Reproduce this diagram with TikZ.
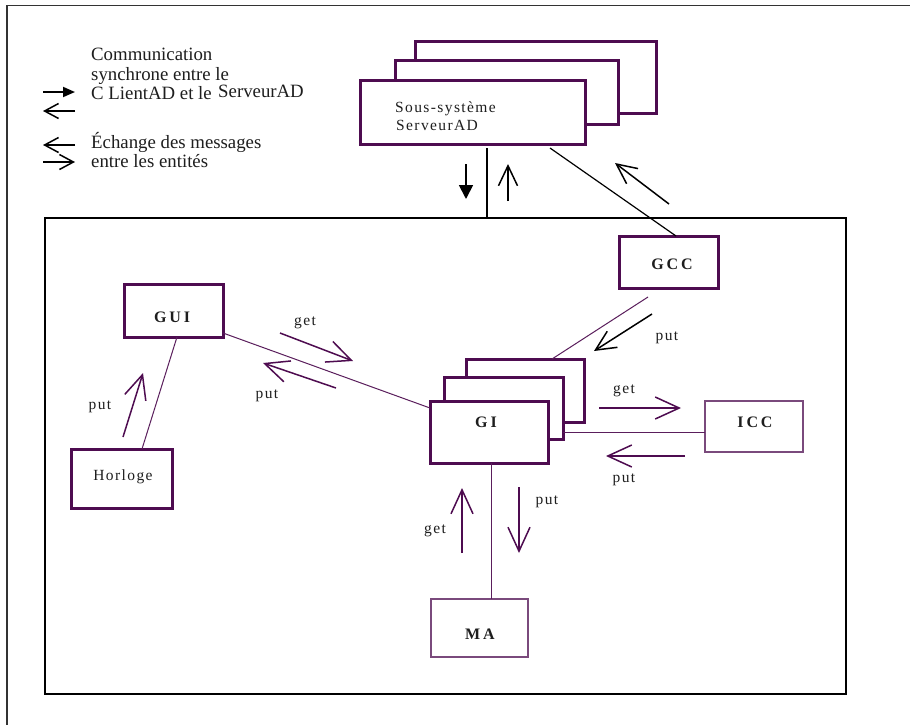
\documentclass[tikz,border=0pt]{standalone}
\usepackage{fontspec}
\setmainfont{Liberation Serif}
\newfontfamily\spacedfont[LetterSpace=9]{Liberation Serif}
\newfontfamily\boxlblfont[LetterSpace=18]{Liberation Serif}
\usetikzlibrary{arrows.meta,calc}
\definecolor{boxpurple}{HTML}{4E0C50}
\definecolor{thinpurple}{HTML}{7A4A7C}
\definecolor{linepurple}{HTML}{5A1E5C}
\definecolor{txt}{HTML}{1E1E1E}
\begin{document}
\begin{tikzpicture}[x=1pt,y=-1pt,
  box/.style={draw=boxpurple,line width=3pt,fill=white,inner sep=0pt,outer sep=0pt},
  thinbox/.style={draw=thinpurple,line width=1.2pt,fill=white,inner sep=0pt,outer sep=0pt},
  frame/.style={draw=black,line width=2.5pt,inner sep=0pt,outer sep=0pt},
  link/.style={draw=linepurple,line width=1pt},
  blink/.style={draw=black,line width=1.2pt},
  msg/.style={draw=boxpurple,line width=1.5pt,-{Straight Barb[length=24pt,width=22pt]}},
  sync/.style={draw=black,line width=1.5pt,-{Straight Barb[length=20pt,width=19pt]}},
  syncfill/.style={draw=black,line width=1.8pt,-{Triangle[length=14pt,width=14pt]}},
  legopen/.style={draw=black,line width=1.5pt,-{Straight Barb[length=14pt,width=15pt]}},
  legfill/.style={draw=black,line width=1.8pt,-{Triangle[length=12pt,width=10pt]}},
  lbl/.style={text=txt,font=\spacedfont\fontsize{15.5}{18}\selectfont,inner sep=0pt,anchor=base},
  boxtext/.style={text=txt,font=\boxlblfont\bfseries\fontsize{16}{18}\selectfont,inner sep=0pt,anchor=base},
  legend/.style={text=txt,font=\fontsize{18.8}{20}\selectfont,inner sep=0pt,anchor=base west}]
\useasboundingbox (0,0) rectangle (910,724);
\fill[white] (0,0) rectangle (910,724);
% outer frame (partially visible)
\draw[draw=black!80,line width=1.5pt] (7,730) -- (7,5.5) -- (915,5.5);

% legend
\draw[legfill] (43,92) -- (75,92);
\draw[legopen] (75,111) -- (43,111);
\draw[legopen] (75,145) -- (43,145);
\draw[legopen] (43,162) -- (75,162);
\node[legend] (lg1) at (91,60) {Communication};
\node[legend] (lg2) at (91,80) {synchrone entre le};
\node[legend] (lg3) at (91,99) {C LientAD et le};
\node[legend] (lg4) at (218,97) {ServeurAD};
\node[legend] (lg5) at (91,148) {Échange des messages};
\node[legend] (lg6) at (91,167) {entre les entités};

% system frame
\node[frame,minimum width=801pt,minimum height=476pt] (sys) at (445.5,456) {};

% server stack
\node[box,minimum width=241pt,minimum height=72pt] (srvC) at (535.5,77) {};
\node[box,minimum width=223pt,minimum height=64pt] (srvB) at (506.5,92) {};
\node[box,minimum width=225pt,minimum height=64pt] (srvA) at (472.5,112) {};
\node[lbl,anchor=base west] (srvt1) at (395,112) {Sous-système};
\node[lbl,anchor=base west] (srvt2) at (396,130) {ServeurAD};

% boxes
\node[box,minimum width=99pt,minimum height=52pt] (gcc) at (668.5,262) {};
\node[box,minimum width=99pt,minimum height=53pt] (gui) at (173.5,310.5) {};
\node[box,minimum width=101pt,minimum height=59pt] (horloge) at (121.5,478.5) {};
\node[box,minimum width=118pt,minimum height=63pt] (giC) at (525,390.5) {};
\node[box,minimum width=119pt,minimum height=62pt] (giB) at (503.5,408) {};
\node[box,minimum width=118pt,minimum height=62pt] (giA) at (489,432) {};
\node[thinbox,minimum width=98pt,minimum height=51pt] (icc) at (754,426.5) {};
\node[thinbox,minimum width=97pt,minimum height=58pt] (ma) at (479.5,628) {};

\node[boxtext] (gcct) at (672,269) {GCC};
\node[boxtext] (guit) at (172,322) {GUI};
\node[boxtext] (git) at (486,427) {GI};
\node[boxtext] (icct) at (755,427) {ICC};
\node[boxtext] (mat) at (480,639) {MA};
\node[lbl] (horlt) at (123,480) {Horloge};

% connectors
\draw[blink] ([xshift=14.5pt,yshift=-4pt]srvA.south) -- ([xshift=14.5pt]srvA.south |- sys.north);
\draw[blink] ([xshift=77.5pt,yshift=-4pt]srvA.south) -- ([xshift=7.5pt]gcc.north);
\draw[link] ([xshift=-20.5pt,yshift=-9pt]gcc.south) -- ([xshift=27pt]giC.north);
\draw[link] ([yshift=4pt]gui.south east) -- ([yshift=-7pt]giA.north west);
\draw[link] ([xshift=3.5pt]gui.south) -- ([xshift=20.5pt]horloge.north);
\draw[link] ([yshift=-24pt]giB.east) -- ([yshift=-24pt]giB.east -| icc.west);
\draw[link] ([xshift=2pt]giA.south) -- ([xshift=2pt]giA.south |- ma.north);

% synchronous arrows
\draw[syncfill] (466,164) -- (466,199);
\draw[sync] (508,201) -- (508,164);
\draw[sync] (669,204) -- (615,163);
\draw[sync] (652,314) -- (594,351);

% message arrows
\draw[msg] (123,437) -- (143,373);
\draw[msg] (280,333) -- (353,361);
\draw[msg] (336,388) -- (263,363);
\draw[msg] (599,408) -- (681,408);
\draw[msg] (685,456) -- (606,456);
\draw[msg] (462,553) -- (462,488);
\draw[msg] (519,487) -- (519,553);

% message labels
\node[lbl] (l1) at (100,409) {put};
\node[lbl] (l2) at (305,325) {get};
\node[lbl] (l3) at (267,398) {put};
\node[lbl] (l4) at (667,340) {put};
\node[lbl] (l5) at (624,393) {get};
\node[lbl] (l6) at (624,482) {put};
\node[lbl] (l7) at (435,533) {get};
\node[lbl] (l8) at (547,504) {put};
\end{tikzpicture}
\end{document}
